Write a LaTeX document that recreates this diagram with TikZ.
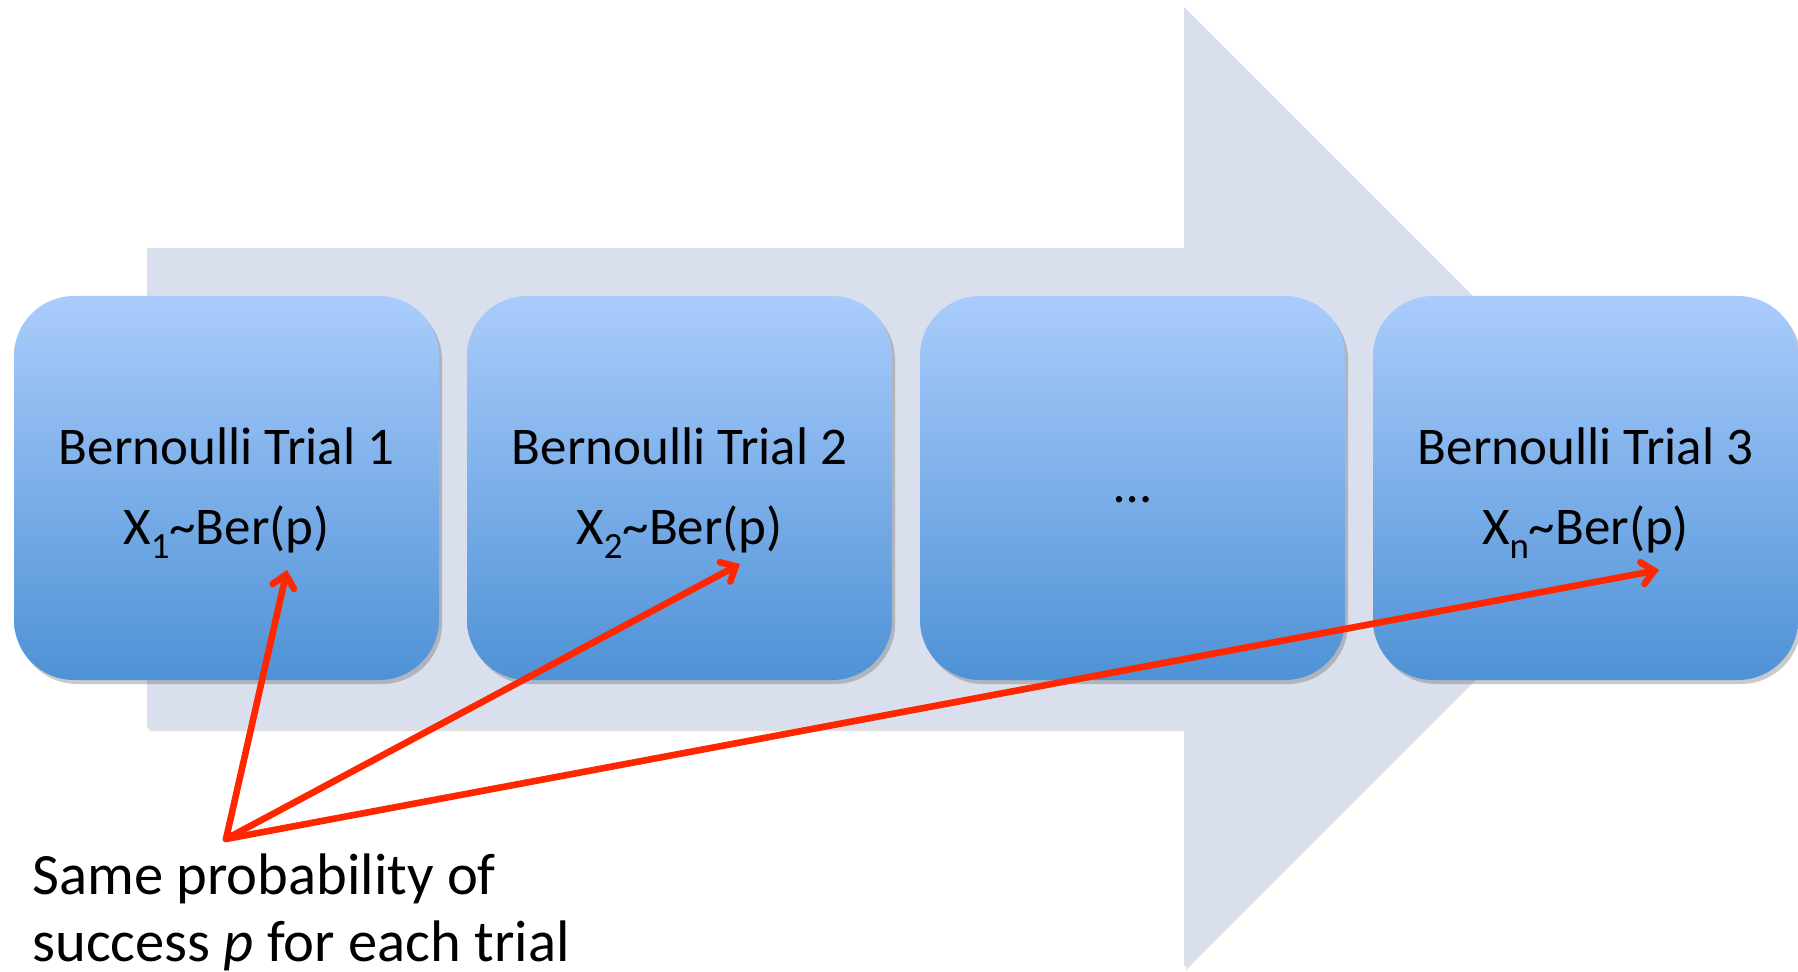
\documentclass[tikz,border=0pt]{standalone}
\usepackage{fontspec}
\setmainfont{Carlito}
\usetikzlibrary{arrows.meta,shadows}
\definecolor{arrowfill}{RGB}{217,223,236}
\definecolor{boxtop}{RGB}{170,204,252}
\definecolor{boxbot}{RGB}{78,146,214}
\definecolor{pointer}{RGB}{255,38,0}
\newcommand{\lowsub}[1]{\raisebox{-0.27em}{\fontsize{18.5}{18.5}\selectfont #1}}
\tikzset{
  trialbox/.style={rectangle, rounded corners=30pt, minimum width=212.5pt, minimum height=192pt,
    top color=boxtop, bottom color=boxbot, inner sep=0pt,
    drop shadow={shadow xshift=1.5pt, shadow yshift=-2pt, opacity=0.35, fill=black!60}},
  trialtext/.style={align=center, inner sep=0pt, font=\fontsize{26.5}{40}\selectfont},
  pointerline/.style={draw=pointer, line width=3.3pt, line cap=round, line join=round,
    -{Straight Barb[length=6pt,width=11pt,line cap=round]}},
}
\begin{document}
\begin{tikzpicture}[x=0.5pt,y=-0.5pt]
\useasboundingbox (0,0) rectangle (1798,972);
% big background arrow
\fill[arrowfill, drop shadow={shadow xshift=1pt, shadow yshift=-1.5pt, opacity=0.25}]
  (147,248) -- (1184,248) -- (1184,7) -- (1664,487) -- (1184,967) -- (1184,728) -- (147,728) -- cycle;
% boxes
\node[trialbox] (b1) at (226.5,488) {};
\node[trialbox] (b2) at (679.5,488) {};
\node[trialbox] (b3) at (1132.5,488) {};
\node[trialbox] (b4) at (1585.5,488) {};
\node[trialtext] (l1) at ([yshift=-2.5pt]b1.center) {Bernoulli Trial 1\\X\lowsub{1}\textasciitilde Ber(p)};
\node[trialtext] (l2) at ([yshift=-2.5pt]b2.center) {Bernoulli Trial 2\\X\lowsub{2}\textasciitilde Ber(p)};
\node[trialtext] (l3) at ([yshift=-6pt]b3.center) {\ldots};
\node[trialtext] (l4) at ([yshift=-2.5pt]b4.center) {Bernoulli Trial 3\\X\lowsub{n}\textasciitilde Ber(p)};
% caption
\node[anchor=base west, inner sep=0pt, font=\fontsize{29.3}{33.5}\selectfont]
  (cap1) at (32,894) {Same probability of};
\node[anchor=base west, inner sep=0pt, font=\fontsize{29.3}{33.5}\selectfont]
  (cap2) at (32,961) {success \textit{p} for each trial};
% pointers
\coordinate (src) at (226,839);
\coordinate (t1) at (287,570);
\coordinate (t2) at (740,564);
\coordinate (t3) at (1659,570);
\draw[pointerline] (src) -- (t1);
\draw[pointerline] (src) -- (t2);
\draw[pointerline] (src) -- (t3);
\end{tikzpicture}
\end{document}
